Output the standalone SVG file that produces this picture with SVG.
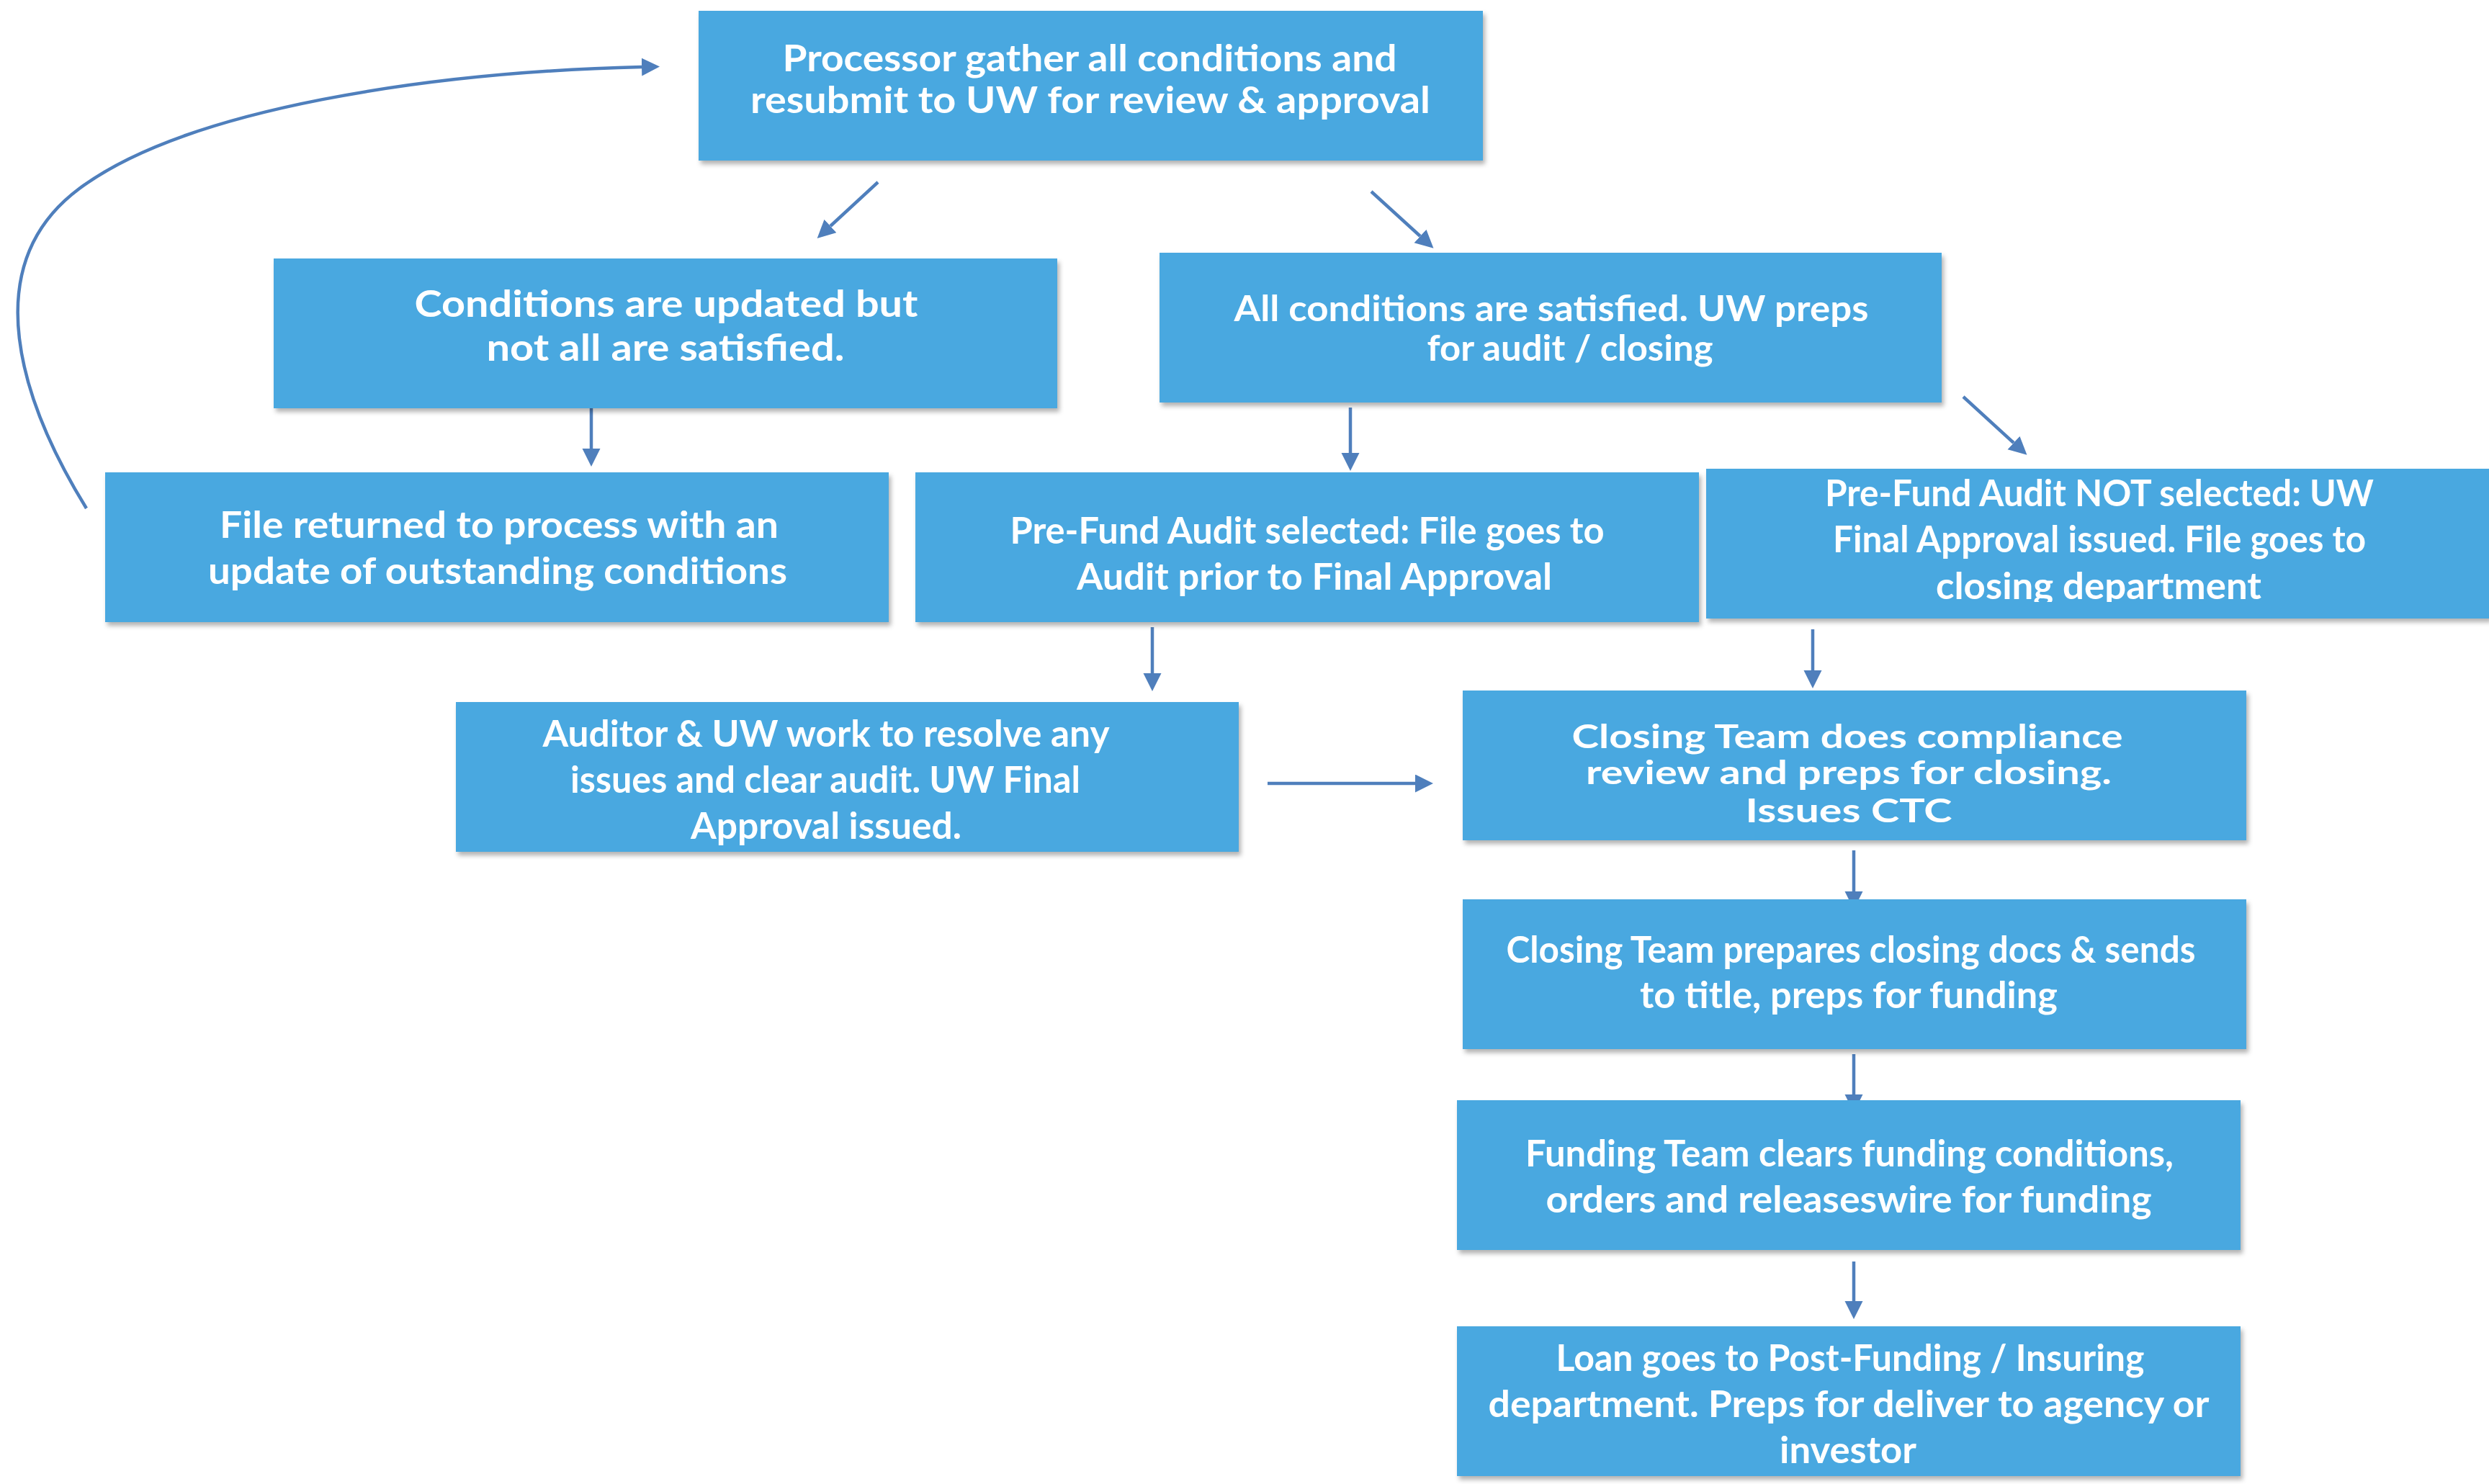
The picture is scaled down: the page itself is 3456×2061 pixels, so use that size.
<svg xmlns="http://www.w3.org/2000/svg" width="3456" height="2061" viewBox="0 0 3456 2061">
<style>
.box{fill:#4AA8E0;filter:url(#sh)}
.t{font-family:Lato,"Noto Sans","Liberation Sans",sans-serif;font-weight:700;font-size:52px;fill:#FFFFFF;text-anchor:middle}
.s{font-size:46px}
.m{font-size:49px}
.c{fill:none;stroke:#4F7FBC;stroke-width:4.5}
</style>
<defs>
<filter id="sh" x="-5%" y="-10%" width="110%" height="125%">
<feDropShadow dx="3" dy="5" stdDeviation="3" flood-color="#000" flood-opacity="0.3"/>
</filter>
<marker id="ah" markerUnits="userSpaceOnUse" markerWidth="26" markerHeight="26" refX="0" refY="12.5" orient="auto">
<path d="M0,0 L25,12.5 L0,25 z" fill="#4F7FBC"/>
</marker>
<clipPath id="clip6"><rect x="2369" y="651" width="1088" height="185"/></clipPath>
</defs>
<rect width="3456" height="2061" fill="#FFFFFF"/>
<g id="connectors">
<path class="c" d="M120,706 C30,560 -35,370 110,262 C260,150 600,100 891,93" stroke-width="4" marker-end="url(#ah)"/>
<line class="c" x1="1219" y1="253" x2="1153" y2="314" marker-end="url(#ah)"/>
<line class="c" x1="1904" y1="266" x2="1972" y2="328" marker-end="url(#ah)"/>
<line class="c" x1="821" y1="567" x2="821" y2="623" marker-end="url(#ah)"/>
<line class="c" x1="1875" y1="566" x2="1875" y2="629" marker-end="url(#ah)"/>
<line class="c" x1="2726" y1="551" x2="2796" y2="615" marker-end="url(#ah)"/>
<line class="c" x1="1600" y1="871" x2="1600" y2="935" marker-end="url(#ah)"/>
<line class="c" x1="2517" y1="874" x2="2517" y2="931" marker-end="url(#ah)"/>
<line class="c" x1="1760" y1="1088" x2="1965" y2="1088" marker-end="url(#ah)"/>
<line class="c" x1="2574" y1="1181" x2="2574" y2="1238" marker-end="url(#ah)"/>
<line class="c" x1="2574" y1="1464" x2="2574" y2="1520" marker-end="url(#ah)"/>
<line class="c" x1="2574" y1="1752" x2="2574" y2="1807" marker-end="url(#ah)"/>
</g>
<g id="n1">
<rect class="box" x="970" y="15" width="1089" height="208"/>
<text class="t" x="1513" y="99" textLength="853" lengthAdjust="spacingAndGlyphs">Processor gather all conditions and</text>
<text class="t" x="1514" y="157" textLength="944" lengthAdjust="spacingAndGlyphs">resubmit to UW for review &amp; approval</text>
</g>
<g id="n2">
<rect class="box" x="380" y="359" width="1088" height="208"/>
<text class="t" x="925" y="440" textLength="699" lengthAdjust="spacingAndGlyphs">Conditions are updated but</text>
<text class="t" x="924" y="501" textLength="497" lengthAdjust="spacingAndGlyphs">not all are satisfied.</text>
</g>
<g id="n3">
<rect class="box" x="1610" y="351" width="1086" height="208"/>
<text class="t m" x="2154" y="446" textLength="881" lengthAdjust="spacingAndGlyphs">All conditions are satisfied. UW preps</text>
<text class="t m" x="2180" y="501" textLength="397" lengthAdjust="spacingAndGlyphs">for audit / closing</text>
</g>
<g id="n4">
<rect class="box" x="146" y="656" width="1088" height="208"/>
<text class="t" x="693" y="747" textLength="776" lengthAdjust="spacingAndGlyphs">File returned to process with an</text>
<text class="t" x="691" y="811" textLength="804" lengthAdjust="spacingAndGlyphs">update of outstanding conditions</text>
</g>
<g id="n5">
<rect class="box" x="1271" y="656" width="1088" height="208"/>
<text class="t" x="1815" y="755" textLength="825" lengthAdjust="spacingAndGlyphs">Pre-Fund Audit selected: File goes to</text>
<text class="t" x="1825" y="819" textLength="660" lengthAdjust="spacingAndGlyphs">Audit prior to Final Approval</text>
</g>
<g id="n6">
<rect class="box" x="2369" y="651" width="1088" height="208"/>
<g clip-path="url(#clip6)">
<text class="t" x="2915" y="703" textLength="762" lengthAdjust="spacingAndGlyphs">Pre-Fund Audit NOT selected: UW</text>
<text class="t" x="2915" y="767" textLength="740" lengthAdjust="spacingAndGlyphs">Final Approval issued. File goes to</text>
<text class="t" x="2914" y="832" textLength="452" lengthAdjust="spacingAndGlyphs">closing department</text>
</g>
</g>
<g id="n7">
<rect class="box" x="633" y="975" width="1087" height="208"/>
<text class="t" x="1147" y="1037" textLength="787" lengthAdjust="spacingAndGlyphs">Auditor &amp; UW work to resolve any</text>
<text class="t" x="1146" y="1101" textLength="708" lengthAdjust="spacingAndGlyphs">issues and clear audit. UW Final</text>
<text class="t" x="1147" y="1165" textLength="376" lengthAdjust="spacingAndGlyphs">Approval issued.</text>
</g>
<g id="n8">
<rect class="box" x="2031" y="959" width="1088" height="208"/>
<text class="t s" x="2565" y="1039" textLength="765" lengthAdjust="spacingAndGlyphs">Closing Team does compliance</text>
<text class="t s" x="2567" y="1089" textLength="730" lengthAdjust="spacingAndGlyphs">review and preps for closing.</text>
<text class="t s" x="2567" y="1142" textLength="287" lengthAdjust="spacingAndGlyphs">Issues CTC</text>
</g>
<g id="n9">
<rect class="box" x="2031" y="1249" width="1088" height="208"/>
<text class="t" x="2570" y="1337" textLength="957" lengthAdjust="spacingAndGlyphs">Closing Team prepares closing docs &amp; sends</text>
<text class="t" x="2567" y="1400" textLength="580" lengthAdjust="spacingAndGlyphs">to title, preps for funding</text>
</g>
<g id="n10">
<rect class="box" x="2023" y="1528" width="1088" height="208"/>
<text class="t" x="2568" y="1620" textLength="900" lengthAdjust="spacingAndGlyphs">Funding Team clears funding conditions,</text>
<text class="t" x="2567" y="1684" textLength="841" lengthAdjust="spacingAndGlyphs">orders and releaseswire for funding</text>
</g>
<g id="n11">
<rect class="box" x="2023" y="1842" width="1088" height="208"/>
<text class="t" x="2569" y="1904" textLength="817" lengthAdjust="spacingAndGlyphs">Loan goes to Post-Funding / Insuring</text>
<text class="t" x="2567" y="1968" textLength="1001" lengthAdjust="spacingAndGlyphs">department. Preps for deliver to agency or</text>
<text class="t" x="2566" y="2032" textLength="190" lengthAdjust="spacingAndGlyphs">investor</text>
</g>
</svg>
